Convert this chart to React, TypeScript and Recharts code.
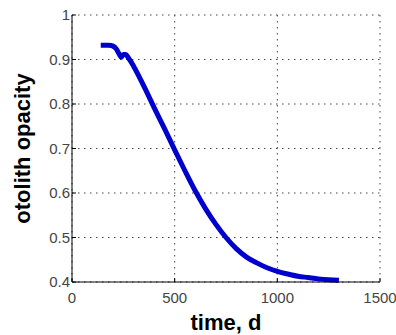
import { LineChart, Line, XAxis, YAxis, CartesianGrid } from 'recharts';

// time in days and otolith opacity
const timeDays = [140, 160, 180, 200, 215, 230, 240, 250, 260, 280, 300, 350, 400, 450, 500, 550, 600, 650, 700, 750, 800, 850, 900, 950, 1000, 1050, 1100, 1150, 1200, 1250, 1300];
const opacity = [0.932, 0.932, 0.932, 0.93, 0.924, 0.912, 0.905, 0.911, 0.911, 0.9, 0.885, 0.84, 0.792, 0.745, 0.697, 0.65, 0.605, 0.565, 0.53, 0.5, 0.475, 0.456, 0.443, 0.432, 0.424, 0.418, 0.413, 0.41, 0.407, 0.405, 0.404];

const xTicks = [0, 500, 1000, 1500];
const yTicks = [0.4, 0.5, 0.6, 0.7, 0.8, 0.9, 1];

const data = timeDays.map((t, i) => ({ t, v: opacity[i] }));

const font = 'Liberation Sans, Arial, sans-serif';
const tickStyle = { fontFamily: font, fontSize: 15, fill: '#444' };
const labelStyle = { fontFamily: font, fontSize: 22, fontWeight: 'bold', fill: '#000' };

export default function App() {
  return (
    <div style={{ position: 'absolute', left: 0, top: 0, background: '#fff' }}>
      <LineChart width={396} height={335} data={data} margin={{ top: 15, right: 16, left: 0, bottom: 0 }}>
        <CartesianGrid stroke="#444" strokeDasharray="1.5 4.5" />
        <XAxis
          type="number"
          dataKey="t"
          domain={[0, 1500]}
          ticks={xTicks}
          height={53}
          stroke="#000"
          tick={tickStyle}
          tickSize={-4}
          tickMargin={14}
          label={{ value: 'time, d', position: 'insideBottom', offset: 5, style: labelStyle }}
        />
        <YAxis
          type="number"
          domain={[0.4, 1]}
          ticks={yTicks}
          width={72}
          stroke="#000"
          tick={tickStyle}
          tickSize={-4}
          tickMargin={6}
          tickFormatter={(v: number) => (v === 1 ? '1' : String(v))}
          label={{ value: 'otolith opacity', angle: -90, position: 'insideLeft', offset: 22, style: { ...labelStyle, textAnchor: 'middle' } }}
        />
        <Line type="monotone" dataKey="v" stroke="#0000cd" strokeWidth={5} dot={false} isAnimationActive={false} />
      </LineChart>
    </div>
  );
}
